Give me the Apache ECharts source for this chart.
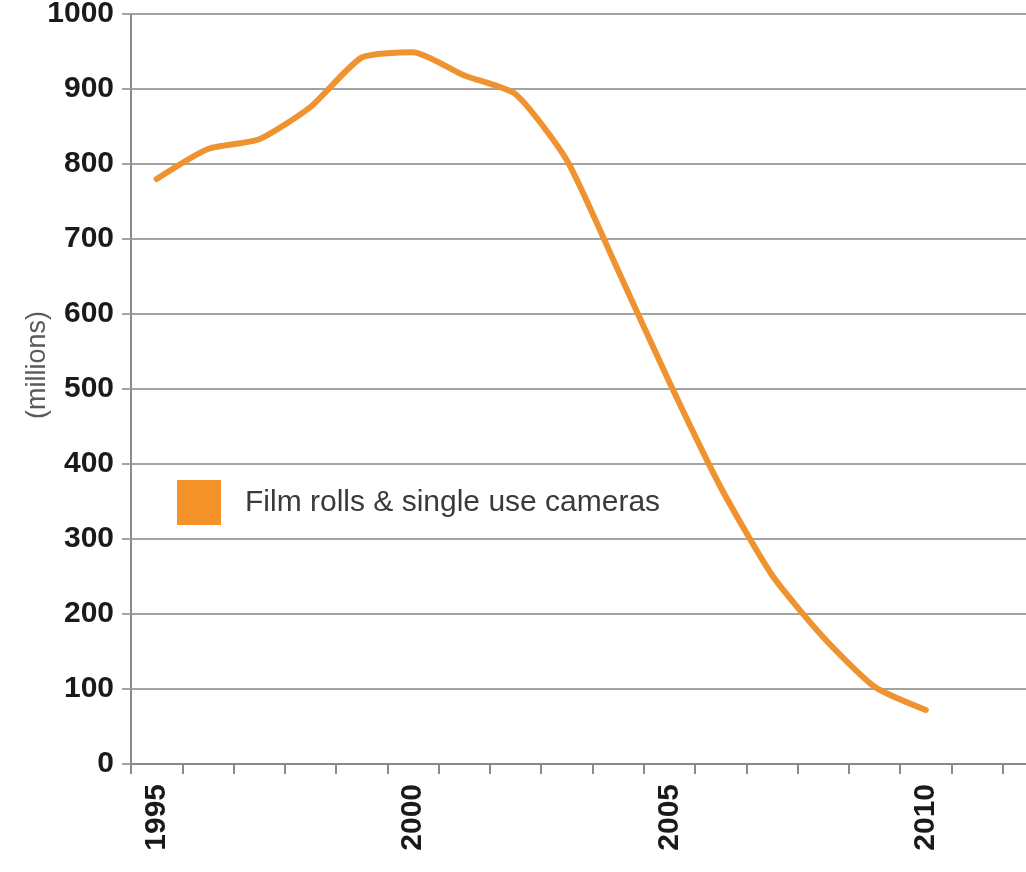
<!DOCTYPE html>
<html>
<head>
<meta charset="utf-8">
<script src="https://cdn.jsdelivr.net/npm/echarts@6/dist/echarts.min.js"></script>
<style>
  html, body { margin: 0; padding: 0; background: #fff; }
  #chart { width: 1026px; height: 872px; }
</style>
</head>
<body>
<div id="chart"></div>
<script>
// Annual sales of film rolls & single use cameras, in millions
const years = ['1995','1996','1997','1998','1999','2000','2001','2002','2003',
               '2004','2005','2006','2007','2008','2009','2010','2011','2012'];
const filmSales = [780, 820, 833, 876, 942, 949, 918, 893, 805,
                   658, 509, 369, 252, 169, 103, 72, null, null];
const seriesName = 'Film rolls & single use cameras';
const yTicks = { min: 0, max: 1000, interval: 100 };

const chart = echarts.init(document.getElementById('chart'), null, { renderer: 'canvas' });

const lineColor = '#EE9330';
const gridColor = '#a3a3a3';
const font = 'Liberation Sans, Arial, Helvetica, sans-serif';

chart.setOption({
  backgroundColor: '#ffffff',
  animation: false,
  grid: { left: 131, top: 14, bottom: 108, right: -28, outerBoundsMode: 'none', containLabel: false },
  legend: {
    left: 172,
    top: 475,
    icon: 'rect',
    itemWidth: 44,
    itemHeight: 45,
    itemStyle: { color: '#F5922A' },
    textStyle: {
      fontFamily: font,
      fontSize: 30,
      color: '#3a3a3a',
      padding: [0, 0, 0, 19]
    },
    data: [seriesName]
  },
  xAxis: {
    type: 'category',
    data: years,
    boundaryGap: true,
    axisLine: { show: true, lineStyle: { color: '#8a8a8a', width: 2 } },
    axisTick: { show: true, interval: 0, length: 10, lineStyle: { color: '#8a8a8a', width: 2 } },
    axisLabel: {
      interval: (idx, val) => Number(val) % 5 === 0,
      rotate: 90,
      margin: 20,
      fontFamily: font,
      fontSize: 30,
      fontWeight: 'bold',
      color: '#1a1a1a'
    },
    splitLine: { show: false }
  },
  yAxis: {
    type: 'value',
    min: yTicks.min,
    max: yTicks.max,
    interval: yTicks.interval,
    name: '(millions)',
    nameLocation: 'middle',
    nameGap: 80,
    nameRotate: 90,
    nameMoveOverlap: false,
    nameTextStyle: {
      fontFamily: font,
      fontSize: 27,
      color: '#5a5a5a',
      padding: [0, 0, 0, 48]
    },
    axisLine: { show: true, lineStyle: { color: '#8a8a8a', width: 2 } },
    axisTick: { show: true, length: 9, lineStyle: { color: gridColor, width: 2 } },
    axisLabel: {
      margin: 17,
      formatter: v => String(v),
      fontFamily: font,
      fontSize: 30,
      fontWeight: 'bold',
      color: '#1a1a1a'
    },
    splitLine: { show: true, lineStyle: { color: gridColor, width: 2 } }
  },
  series: [{
    name: seriesName,
    type: 'line',
    data: filmSales,
    smooth: 0.2,
    showSymbol: false,
    connectNulls: false,
    lineStyle: { color: lineColor, width: 6, cap: 'round', join: 'round' },
    itemStyle: { color: lineColor }
  }]
});
</script>
</body>
</html>
